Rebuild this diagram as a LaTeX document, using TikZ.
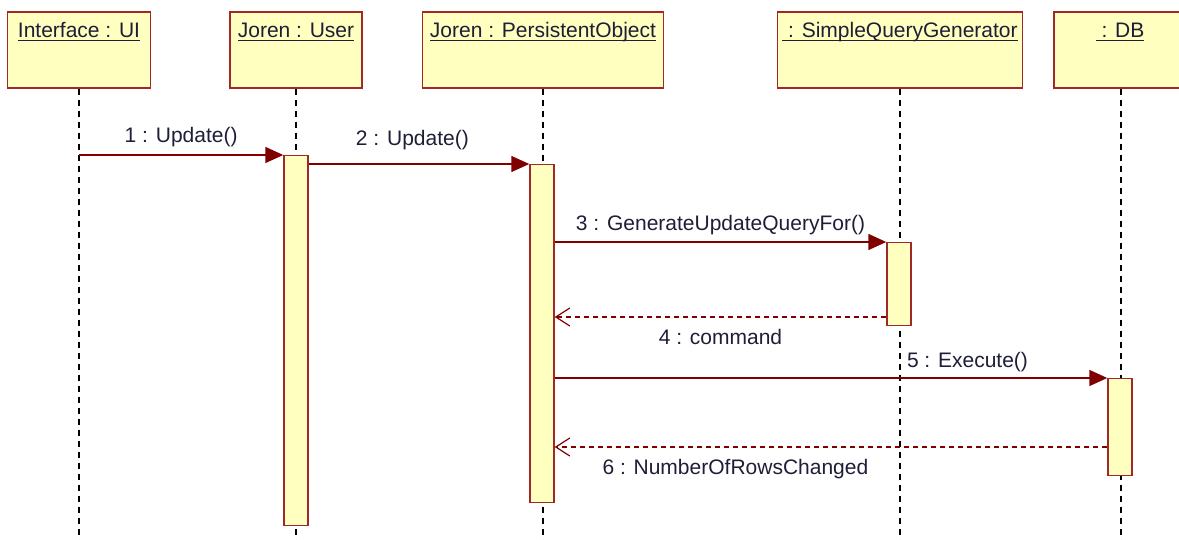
\documentclass[tikz,border=0pt]{standalone}
\usepackage{fontspec}
\setmainfont{Liberation Sans}
\usetikzlibrary{arrows.meta}
\definecolor{boxfill}{RGB}{255,255,192}
\definecolor{boxdraw}{RGB}{160,40,40}
\definecolor{msg}{RGB}{128,0,0}
\definecolor{txt}{RGB}{30,30,55}
\newcommand\myul[1]{\setbox0\hbox{#1}\leavevmode\rlap{\copy0}\rule[-3.5pt]{\wd0}{1.4pt}}
\begin{document}
\begin{tikzpicture}[x=1pt,y=-1pt,
  obj/.style={draw=boxdraw, fill=boxfill, line width=1.6pt, rectangle, inner sep=0pt, minimum height=76pt, anchor=north},
  act/.style={draw=boxdraw, fill=boxfill, line width=1.4pt, rectangle, inner sep=0pt, minimum width=24pt, anchor=north},
  life/.style={black, line width=1.5pt, dash pattern=on 6pt off 5pt},
  call/.style={msg, line width=1.4pt, -{Triangle[length=18pt,width=16pt]}},
  ret/.style={msg, line width=1.2pt, dash pattern=on 5pt off 4pt, -{Straight Barb[length=14pt,width=18pt,line width=1.2pt]}},
  lbl/.style={text=txt, font=\fontsize{21}{25}\selectfont, inner sep=0pt}
]
\useasboundingbox (0,0) rectangle (1179,540);
\clip (0,0) rectangle (1179,540);
% objects
\node[obj, minimum width=143pt] (ui) at (79,11) {};
\node[obj, minimum width=132pt] (user) at (296,11) {};
\node[obj, minimum width=241pt] (po) at (543,11) {};
\node[obj, minimum width=245pt] (sqg) at (900,11) {};
\node[obj, minimum width=136pt] (db) at (1122,11) {};
\node[lbl] (tui) at (79,32) {\myul{Interface : UI}};
\node[lbl] (tuser) at (296,32) {\myul{Joren : User}};
\node[lbl] (tpo) at (543,32) {\myul{Joren : PersistentObject}};
\node[lbl] (tsqg) at (900,32) {\myul{\ : SimpleQueryGenerator}};
\node[lbl] (tdb) at (1120,32) {\myul{\ : DB}};
% lifelines
\coordinate (eui) at (79,540);
\coordinate (euser) at (296,540);
\coordinate (epo) at (543,540);
\coordinate (esqg) at (900,540);
\coordinate (edb) at (1121,540);
\draw[life] (ui.south) -- (eui);
\draw[life] (user.south) -- (euser);
\draw[life] (po.south) -- (epo);
\draw[life] (sqg.south) -- (esqg);
\draw[life] (db.south -| edb) -- (edb);
% activations
\node[act, minimum height=370pt] (auser) at (296,155) {};
\node[act, minimum height=338pt] (apo) at (542,164) {};
\node[act, minimum height=83pt] (asqg) at (899,242) {};
\node[act, minimum height=97pt] (adb) at (1120,378) {};
% messages
\coordinate (m1) at (79,155);
\draw[call] (m1) -- (auser.north west) node[lbl, midway, yshift=18pt] {1 : Update()};
\draw[call] (auser.east |- apo.north) -- (apo.north west) node[lbl, pos=0.47, yshift=24pt] {2 : Update()};
\draw[call] (apo.east |- asqg.north) -- (asqg.north west) node[lbl, midway, yshift=17pt] {3 : GenerateUpdateQueryFor()};
\coordinate (r4) at (0,317);
\draw[ret] (asqg.west |- r4) -- (apo.east |- r4) node[lbl, midway, yshift=-20pt] {4 : command};
\draw[call] (apo.east |- adb.north) -- (adb.north west) node[lbl, pos=0.747, yshift=16pt] {5 : Execute()};
\coordinate (r6) at (0,447);
\draw[ret] (adb.west |- r6) -- (apo.east |- r6) node[lbl, pos=0.673, yshift=-22pt] {6 : NumberOfRowsChanged};
\end{tikzpicture}
\end{document}
